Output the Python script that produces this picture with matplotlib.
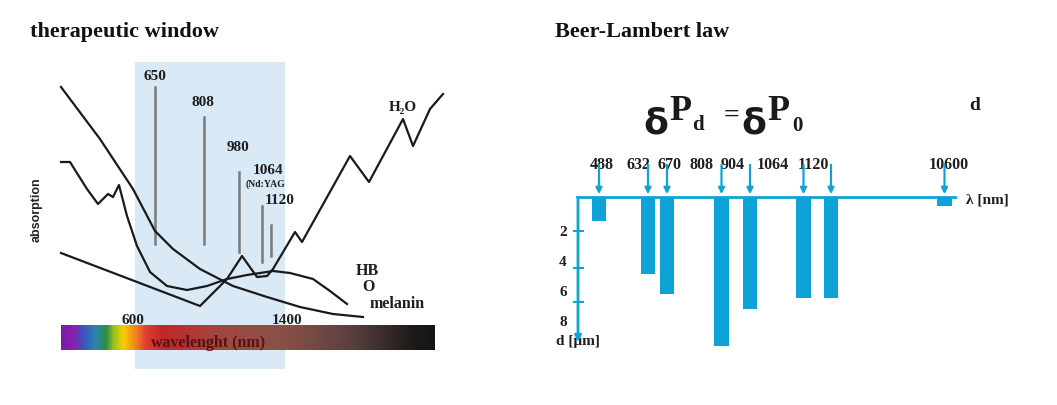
import numpy as np
import matplotlib
matplotlib.use("Agg")
import matplotlib.pyplot as plt
from matplotlib.colors import LinearSegmentedColormap

# ---------------- data: left panel (schematic absorption curves, picture units) ----------
melanin_x = [61, 100, 133, 155, 173, 200, 233, 267, 300, 333, 363]
melanin_y = [88, 140, 190, 232, 250, 270, 287, 298, 308, 315, 318]

hbo_x = [61, 70, 87, 98, 108, 113, 119, 127, 137, 150, 167, 187, 207, 227, 247, 273, 290, 313, 330, 347]
hbo_y = [163, 163, 190, 205, 195, 198, 186, 217, 247, 273, 287, 291, 287, 280, 276, 272, 274, 280, 292, 305]

water_x = [61, 200, 227, 242, 257, 267, 273, 295, 302, 350, 369, 403, 413, 430, 443]
water_y = [254, 307, 280, 257, 278, 277, 270, 233, 243, 157, 183, 120, 147, 110, 95]

laser_labels = ["650", "808", "980", "1064", "1120"]
laser_x = [155, 204, 239, 262, 271]
laser_top = [88, 118, 173, 207, 226]
laser_bottom = [245, 245, 253, 263, 257]

# ---------------- data: right panel (penetration depth) ----------------
bar_wavelengths = ["488", "632", "670", "808/904", "1064", "1120", "1120b", "10600"]
bar_depth = [1.35, 4.4, 5.55, 8.5, 6.4, 5.75, 5.75, 0.5]
depth_ticks = [2, 4, 6, 8]
top_labels = ["488", "632", "670", "808", "904", "1064", "1120", "10600"]

# ---------------- layout -------------------------------------------------------------------
W, H = 1057, 406
fig = plt.figure(figsize=(W / 100, H / 100), dpi=100)
bg = fig.add_axes([0, 0, 1, 1])
bg.set_xlim(0, W)
bg.set_ylim(H, 0)
bg.axis("off")

serif_b = dict(family="Liberation Serif", fontweight="bold")
ink = "#1e1e1e"

# titles
bg.text(30, 32, "therapeutic window", fontsize=16, color="#111111", va="center", ha="left", **serif_b)
bg.text(555, 32, "Beer-Lambert law", fontsize=16, color="#111111", va="center", ha="left", **serif_b)

# therapeutic window rectangle
bg.add_patch(plt.Rectangle((135, 63), 150, 307, facecolor="#d9e9f6", edgecolor="none", zorder=0))

# spectrum bar
spec_cols = [(0.0, "#7a1aa8"), (0.03, "#8a1fb0"), (0.06, "#3a55c0"), (0.09, "#2a85b0"),
             (0.12, "#2a9040"), (0.14, "#9ac020"), (0.165, "#f5d000"), (0.2, "#f08020"),
             (0.225, "#e04030"), (0.27, "#c02828"), (0.43, "#a04840"), (0.6, "#885048"),
             (0.78, "#5a4040"), (0.95, "#1c1818"), (1.0, "#151515")]
cmap = LinearSegmentedColormap.from_list("spec", spec_cols)
grad = np.linspace(0, 1, 512)[None, :]
bg.imshow(grad, aspect="auto", cmap=cmap, extent=(61, 435, 351, 326), zorder=1)
bg.set_xlim(0, W)
bg.set_ylim(H, 0)
bg.text(208, 343, "wavelenght (nm)", fontsize=11.5, color="#5a1010", ha="center", va="center", zorder=3, **serif_b)
bg.text(122, 321, "600", fontsize=11, color=ink, ha="left", va="center", zorder=3, **serif_b)
bg.text(272, 321, "1400", fontsize=11, color=ink, ha="left", va="center", zorder=3, **serif_b)

# laser lines
for lab, x, t, b in zip(laser_labels, laser_x, laser_top, laser_bottom):
    bg.plot([x, x], [t, b], color="#7a7a7a", lw=1.8, zorder=2)
label_pos = {"650": (155, 76), "808": (203, 103), "980": (238, 148), "1064": (268, 171), "1120": (280, 201)}
for lab in laser_labels:
    x, y = label_pos[lab]
    bg.text(x, y, lab, fontsize=11, color=ink, ha="center", va="center", zorder=3, **serif_b)
bg.text(265, 184, "(Nd:YAG", fontsize=7, color=ink, ha="center", va="center", zorder=3, **serif_b)

# curves
for xs, ys in [(melanin_x, melanin_y), (hbo_x, hbo_y), (water_x, water_y)]:
    bg.plot(xs, ys, color="#1a1a1a", lw=1.6, zorder=2, solid_joinstyle="round")

bg.text(403, 108, "H\u2082O", fontsize=11, color=ink, ha="center", va="center", **serif_b)
bg.text(367, 271, "HB", fontsize=11.5, color=ink, ha="center", va="center", **serif_b)
bg.text(368, 287, "O", fontsize=11.5, color=ink, ha="center", va="center", **serif_b)
bg.text(397, 304, "melanin", fontsize=11.5, color=ink, ha="center", va="center", **serif_b)
bg.text(37, 210, "absorption", fontsize=9, color="#222222", ha="center", va="center", rotation=90,
        family="Liberation Sans", fontweight="bold")

# ---------------- right panel -----------------------------------------------------------
blue = "#0ea3d8"
y0_px, px_per_unit = 198.0, 17.5
ax = fig.add_axes([0, 0, 1, 1], facecolor="none")
ax.set_xlim(0, W)
ax.set_ylim((H - y0_px) / px_per_unit, -y0_px / px_per_unit)
ax.axis("off")

def dy(px):
    return (px - y0_px) / px_per_unit

slots = [599, 648, 667, 721.5, 750, 803.5, 831, 944.5]
ax.bar(slots, bar_depth, width=14.5, color=blue, zorder=2)

# axes lines
ax.plot([577, 955], [0, 0], color=blue, lw=2, zorder=3)
ax.annotate("", xy=(578, dy(346)), xytext=(578, 0),
            arrowprops=dict(arrowstyle="-|>", color=blue, lw=2, mutation_scale=9), zorder=3)
for tp in [232, 269, 303]:
    ax.plot([574, 583], [dy(tp)] * 2, color=blue, lw=1.5, zorder=3)
for t, ty in zip(depth_ticks, [232, 262, 293, 323]):
    ax.text(563, dy(ty), str(t), fontsize=11, ha="center", va="center", color=ink, **serif_b)
ax.text(556, dy(342), "d [μm]", fontsize=11, ha="left", va="center", color=ink, zorder=1, **serif_b)
ax.text(966, dy(200), "λ [nm]", fontsize=11, ha="left", va="center", color=ink, **serif_b)

# top wavelength labels and arrows
lab_x = [602, 638, 670, 701, 733, 773, 813, 949]
for lab, lx in zip(top_labels, lab_x):
    ax.text(lx, dy(165), lab, fontsize=11.5, ha="center", va="center", color=ink, zorder=1, **serif_b)
for sx in slots:
    ax.annotate("", xy=(sx, 0), xytext=(sx, dy(163)),
                arrowprops=dict(arrowstyle="-|>", color=blue, lw=1.6, mutation_scale=9), zorder=3)

# formula
big = dict(fontsize=26, color="#1a1a1a", va="center", ha="left")
ax.text(643, dy(123), "δ", family="DejaVu Sans", fontweight="bold", **big)
ax.text(669, dy(112), "P", **big, **serif_b)
ax.text(692, dy(125), "d", fontsize=15, color="#1a1a1a", va="center", ha="left", **serif_b)
ax.text(724, dy(116), "=", fontsize=20, color="#1a1a1a", va="center", ha="left", **serif_b)
ax.text(741, dy(123), "δ", family="DejaVu Sans", fontweight="bold", **big)
ax.text(767, dy(112), "P", **big, **serif_b)
ax.text(792, dy(126), "0", fontsize=15, color="#1a1a1a", va="center", ha="left", **serif_b)
ax.text(969, dy(105), "d", fontsize=14, color="#1a1a1a", va="center", ha="left", **serif_b)

fig.savefig("out.png", dpi=100)
